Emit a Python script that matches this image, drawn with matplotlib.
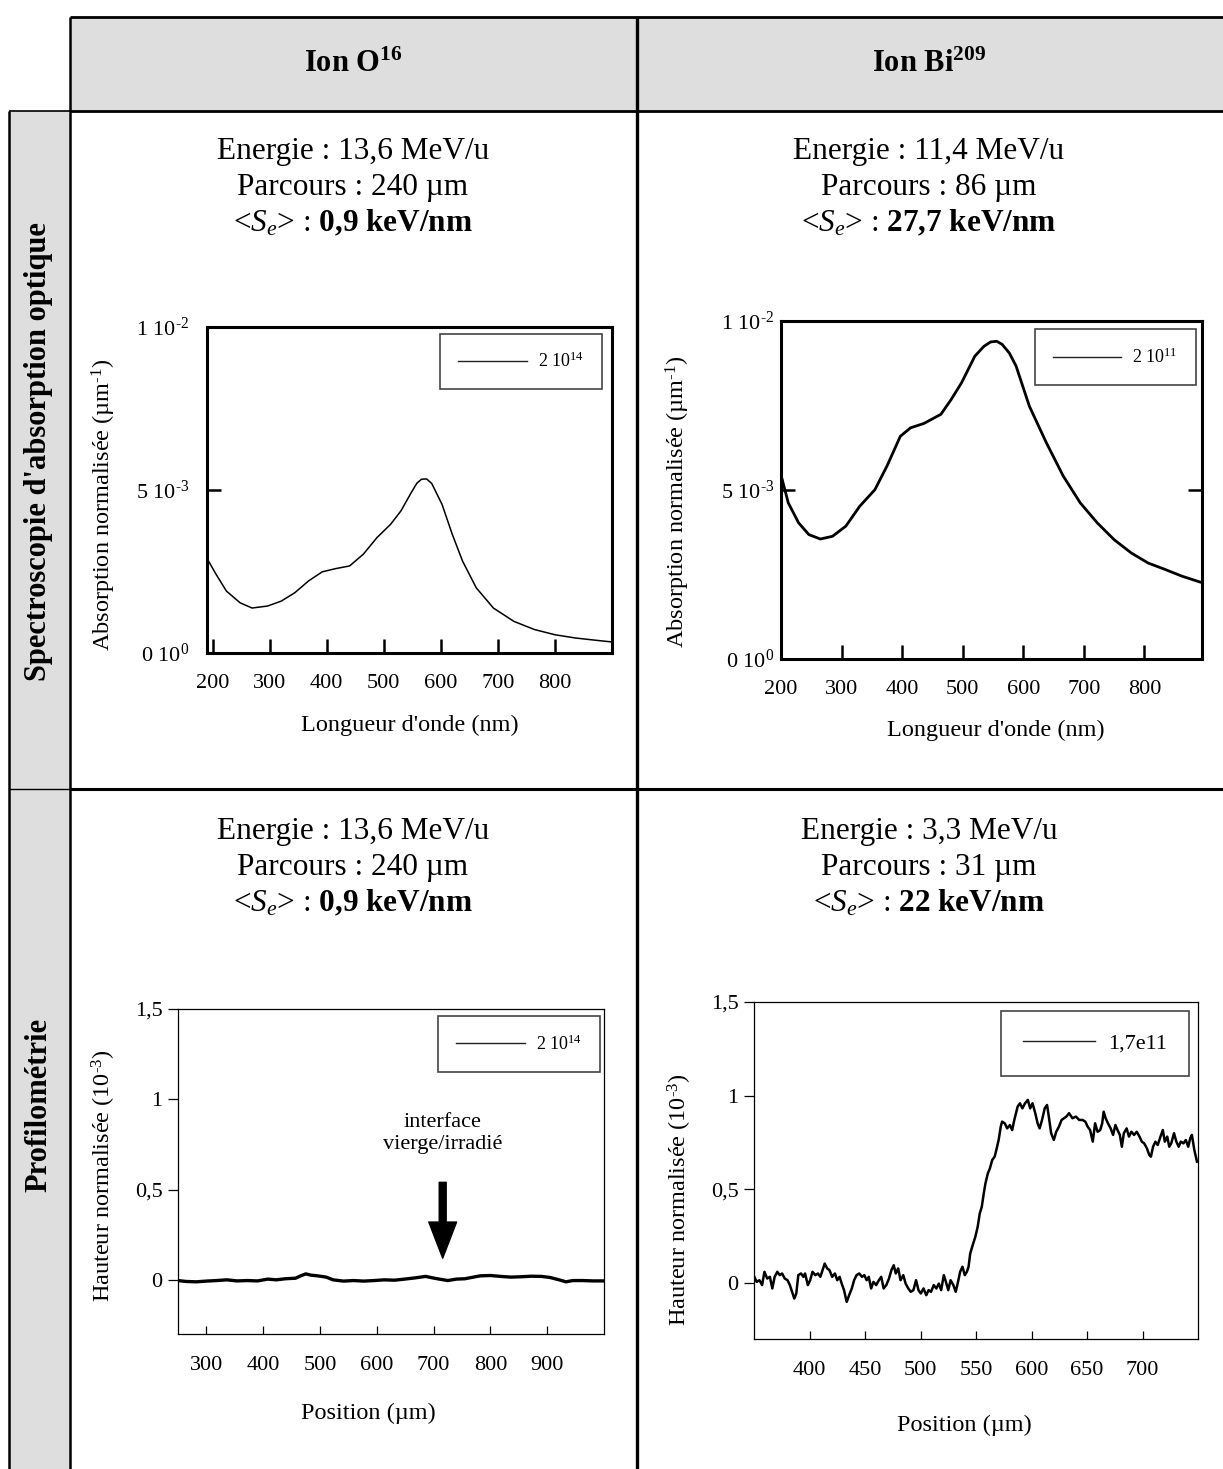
import matplotlib
matplotlib.use('Agg')
import matplotlib.pyplot as plt
from matplotlib.lines import Line2D
from matplotlib.patches import Rectangle

# ---- donnees ----
# spectre optique, ion O16 (2 10^14)
o_wavelength = [191, 206, 224, 248, 269, 296, 320, 344, 368, 392, 416, 440, 464, 488,
                512, 530, 548, 558, 566, 575, 584, 602, 620, 638, 662, 692, 728, 764, 800,
                836, 872, 899]
o_absorb = [0.00287, 0.00241, 0.00190, 0.00154, 0.00138, 0.00144, 0.00159, 0.00185, 0.00221,
            0.00249, 0.00259, 0.00267, 0.00303, 0.00354, 0.00395, 0.00436, 0.00492, 0.00521,
            0.00533, 0.00534, 0.00520, 0.00456, 0.00364, 0.00282, 0.00200, 0.00138, 0.00097,
            0.00072, 0.00056, 0.00046, 0.00039, 0.00034]

# spectre optique, ion Bi209 (2 10^11)
bi_wavelength = [202, 212, 229, 246, 265, 285, 307, 330, 355, 375, 397, 414, 436, 464, 481,
                 498, 520, 535, 546, 556, 565, 577, 588, 610, 638, 666, 694, 722, 750, 778,
                 806, 834, 862, 893]
bi_absorb = [0.00531, 0.00462, 0.00403, 0.00368, 0.00355, 0.00363, 0.00393, 0.00452, 0.00501,
             0.00571, 0.00659, 0.00684, 0.00697, 0.00724, 0.00768, 0.00817, 0.00896, 0.00925,
             0.00938, 0.00940, 0.00931, 0.00905, 0.00867, 0.00748, 0.00640, 0.00541, 0.00462,
             0.00403, 0.00353, 0.00314, 0.00284, 0.00265, 0.00245, 0.00227]

# profilometrie, ion O16
o_position = [250, 264, 282, 300, 318, 336, 354, 372, 390, 408, 423, 439, 457, 466, 475, 484,
              496, 511, 523, 541, 559, 577, 595, 613, 631, 649, 668, 686, 698, 710, 725, 740,
              755, 770, 782, 800, 818, 836, 854, 872, 890, 905, 921, 933, 945, 963, 981, 999]
o_height = [-0.004, -0.009, -0.011, -0.007, -0.004, 0.0, -0.006, -0.004, -0.006, 0.004, 0.0,
            0.006, 0.009, 0.022, 0.033, 0.026, 0.022, 0.015, 0.0, -0.007, -0.004, -0.007,
            -0.004, 0.0, -0.002, 0.004, 0.011, 0.019, 0.011, 0.004, -0.004, 0.004, 0.006,
            0.015, 0.022, 0.024, 0.019, 0.015, 0.017, 0.020, 0.019, 0.013, 0.0, -0.011,
            -0.004, -0.004, -0.006, -0.006]

# profilometrie, ion Bi209
bi_position = [350.3, 352.4, 354.9, 357.3, 359.4, 361.9, 364.3, 366.5, 368.6, 371.0, 373.2,
               375.3, 377.7, 380.2, 382.3, 383.8, 386.3, 388.1, 389.9, 392.4, 394.5, 396.0,
               398.5, 400.6, 402.7, 405.2, 407.6, 409.8, 411.3, 413.7, 415.9, 418.0, 420.4,
               422.9, 425.0, 427.1, 429.0, 431.1, 433.5, 435.7, 438.1, 440.2, 442.4, 444.8,
               447.3, 449.4, 451.5, 453.4, 455.5, 457.6, 460.1, 462.5, 464.6, 466.8, 469.2,
               471.6, 473.8, 475.9, 477.7, 479.9, 482.0, 484.5, 486.6, 489.0, 491.2, 493.6,
               496.0, 498.2, 500.3, 502.7, 505.2, 507.3, 509.5, 511.9, 514.3, 516.5, 518.6,
               521.0, 522.9, 525.0, 527.1, 529.6, 531.7, 533.8, 535.7, 537.8, 539.9, 541.8,
               543.3, 544.8, 547.0, 549.4, 551.5, 553.4, 555.2, 557.0, 558.5, 560.7, 562.5,
               564.6, 566.8, 568.3, 570.4, 572.3, 573.5, 575.9, 578.1, 580.5, 582.6, 584.5,
               586.0, 587.5, 589.6, 591.8, 594.2, 596.7, 598.8, 600.9, 603.4, 605.5, 607.3,
               609.5, 611.9, 614.0, 615.6, 617.7, 620.1, 622.3, 624.7, 627.1, 629.3, 631.4,
               633.8, 636.9, 640.0, 643.0, 646.0, 648.5, 650.6, 652.8, 655.2, 657.3, 659.5,
               661.9, 663.7, 665.0, 666.8, 668.9, 671.3, 673.5, 675.6, 677.5, 679.6, 681.4,
               683.2, 685.7, 687.8, 690.0, 692.4, 694.8, 697.3, 699.4, 701.5, 704.0, 706.1,
               707.6, 709.5, 711.6, 713.7, 716.2, 718.3, 720.1, 722.3, 724.1, 725.9, 728.4,
               730.5, 732.6, 734.5, 736.9, 739.0, 741.2, 743.0, 744.5, 746.7, 749.1]
bi_height = [0.032, 0.005, 0.014, -0.012, 0.059, 0.023, 0.032, -0.030, 0.032, 0.059, 0.041,
             0.050, 0.023, 0.014, -0.012, -0.039, -0.084, -0.057, 0.041, 0.050, 0.032, 0.050,
             -0.012, 0.014, 0.059, 0.041, 0.050, 0.032, 0.059, 0.103, 0.077, 0.068, 0.032,
             0.050, 0.014, 0.032, -0.004, -0.039, -0.102, -0.066, -0.030, 0.014, 0.041, 0.050,
             0.032, 0.041, 0.014, 0.032, -0.030, 0.005, -0.012, 0.014, 0.032, -0.030, -0.012,
             0.023, 0.068, 0.094, 0.050, 0.077, 0.014, 0.041, -0.004, -0.030, -0.048, -0.039,
             0.014, -0.039, -0.057, -0.030, -0.066, -0.039, -0.048, -0.012, -0.030, -0.004,
             -0.039, 0.041, 0.005, -0.039, 0.014, -0.012, -0.048, 0.005, 0.059, 0.086, 0.041,
             0.059, 0.086, 0.157, 0.201, 0.246, 0.299, 0.371, 0.406, 0.478, 0.531, 0.585,
             0.611, 0.656, 0.674, 0.709, 0.763, 0.834, 0.861, 0.852, 0.825, 0.843, 0.816,
             0.870, 0.906, 0.941, 0.959, 0.932, 0.959, 0.977, 0.932, 0.959, 0.906, 0.852,
             0.825, 0.870, 0.932, 0.950, 0.888, 0.799, 0.763, 0.807, 0.834, 0.870, 0.879,
             0.888, 0.906, 0.879, 0.888, 0.870, 0.870, 0.861, 0.834, 0.816, 0.754, 0.852,
             0.807, 0.816, 0.852, 0.914, 0.879, 0.852, 0.825, 0.790, 0.843, 0.816, 0.790,
             0.727, 0.799, 0.825, 0.781, 0.807, 0.790, 0.807, 0.781, 0.754, 0.745, 0.718,
             0.683, 0.674, 0.727, 0.754, 0.736, 0.781, 0.816, 0.754, 0.781, 0.727, 0.745,
             0.799, 0.754, 0.727, 0.754, 0.745, 0.763, 0.727, 0.772, 0.790, 0.709, 0.647]

# textes
col_titles = [r"Ion O$^{\mathbf{16}}$", r"Ion Bi$^{\mathbf{209}}$"]
row_titles = ["Spectroscopie d'absorption optique", "Profilométrie"]
cell_texts = {
    (0, 0): ["Energie : 13,6 MeV/u", "Parcours : 240 µm", r"<$S_e$> : $\mathbf{0{,}9\ keV/nm}$"],
    (0, 1): ["Energie : 11,4 MeV/u", "Parcours : 86 µm", r"<$S_e$> : $\mathbf{27{,}7\ keV/nm}$"],
    (1, 0): ["Energie : 13,6 MeV/u", "Parcours : 240 µm", r"<$S_e$> : $\mathbf{0{,}9\ keV/nm}$"],
    (1, 1): ["Energie : 3,3 MeV/u", "Parcours : 31 µm", r"<$S_e$> : $\mathbf{22\ keV/nm}$"],
}
abs_yticks = [0, 0.005, 0.01]
abs_ylabels = [r"0 10$^{0}$", r"5 10$^{\text{-}3}$", r"1 10$^{\text{-}2}$"]
abs_xticks = [200, 300, 400, 500, 600, 700, 800]
prof_yticks = [0, 0.5, 1, 1.5]
prof_ylabels = ["0", "0,5", "1", "1,5"]
o_prof_xticks = [300, 400, 500, 600, 700, 800, 900]
bi_prof_xticks = [400, 450, 500, 550, 600, 650, 700]

plt.rcParams['font.family'] = 'Liberation Serif'
plt.rcParams['mathtext.fontset'] = 'custom'
plt.rcParams['mathtext.rm'] = 'Liberation Serif'
plt.rcParams['mathtext.it'] = 'Liberation Serif:italic'
plt.rcParams['mathtext.bf'] = 'Liberation Serif:bold'

W, H = 1223, 1469
fig = plt.figure(figsize=(W / 100, H / 100), dpi=100)


def fx(x):
    return x / W


def fy(y):
    return 1 - y / H


def hline(x0, x1, y, lw):
    fig.add_artist(Line2D([fx(x0), fx(x1)], [fy(y), fy(y)], transform=fig.transFigure,
                          color='black', lw=lw, solid_capstyle='butt'))


def vline(x, y0, y1, lw):
    fig.add_artist(Line2D([fx(x), fx(x)], [fy(y0), fy(y1)], transform=fig.transFigure,
                          color='black', lw=lw, solid_capstyle='butt'))


def new_axes(l, t, r, b):
    return fig.add_axes([fx(l), fy(b), (r - l) / W, (b - t) / H])


# ---- tableau ----
grey = '#DEDEDE'
fig.add_artist(Rectangle((fx(70), fy(111)), (W - 70) / W, 94 / H, transform=fig.transFigure,
                         fc=grey, ec='none', zorder=0))
fig.add_artist(Rectangle((fx(9), fy(H)), 61 / W, (H - 111) / H, transform=fig.transFigure,
                         fc=grey, ec='none', zorder=0))
hline(70, W, 17, 2.0)
hline(70, W, 111, 2.0)
hline(9, 70, 111, 1.2)
hline(70, W, 789, 2.2)
hline(9, 70, 789, 1.0)
vline(70, 17, H, 1.8)
vline(637, 17, H, 2.4)
vline(9, 111, H, 1.8)

col_centers = [353, 929]
for cx, title in zip(col_centers, col_titles):
    fig.text(fx(cx), fy(64), title, ha='center', va='center', fontsize=22, fontweight='bold')

fig.text(fx(39), fy(452), row_titles[0], rotation=90, ha='center', va='center',
         fontsize=22, fontweight='bold')
fig.text(fx(39), fy(1105), row_titles[1], rotation=90, ha='center', va='center',
         fontsize=22, fontweight='bold')

row_lines_y = [[151, 187, 223], [832, 867, 903]]
for (r, c), lines in cell_texts.items():
    for y, txt in zip(row_lines_y[r], lines):
        fig.text(fx(col_centers[c]), fy(y), txt, ha='center', va='center', fontsize=22.5)


def legend_at(ax, label, x_right, y_top, fontsize, hlen):
    leg = ax.legend([Line2D([], [], color='#222222', lw=1.0)], [label],
                    loc='upper right', bbox_to_anchor=(x_right, y_top), borderaxespad=0,
                    fontsize=fontsize, handlelength=hlen, handletextpad=0.6, borderpad=1.0,
                    fancybox=False, edgecolor='#444444', framealpha=1)
    leg.get_frame().set_linewidth(1.2)


def spec_axes(ax, x, y, lw, xlim, right_tick, ypad):
    ax.plot(x, y, color='black', lw=lw)
    ax.set_xlim(*xlim)
    ax.set_ylim(0, 0.01)
    ax.set_xticks(abs_xticks)
    ax.set_yticks(abs_yticks, labels=abs_ylabels)
    for s in ax.spines.values():
        s.set_linewidth(2.2)
    ax.tick_params(axis='x', direction='in', length=10, width=1.8, labelsize=16, pad=15)
    ax.tick_params(axis='y', direction='in', length=10, width=1.8, labelsize=16, pad=ypad,
                   right=right_tick)


# ---- spectre O16 ----
ax1 = new_axes(207, 327, 612, 653)
spec_axes(ax1, o_wavelength, o_absorb, 1.1, (190, 900), False, 13)
legend_at(ax1, r"2 10$^{14}$", 0.975, 0.98, 13, 3.8)
fig.text(fx(410), fy(725), "Longueur d'onde (nm)", ha='center', va='center', fontsize=17.5)
fig.text(fx(104), fy(505), r"Absorption normalisée (µm$^{\text{-}1}$)", rotation=90,
         ha='center', va='center', fontsize=17.5)

# ---- spectre Bi209 ----
ax2 = new_axes(781, 321, 1202, 659)
spec_axes(ax2, bi_wavelength, bi_absorb, 2.0, (200, 895), True, 5)
legend_at(ax2, r"2 10$^{11}$", 0.985, 0.975, 13, 3.8)
fig.text(fx(996), fy(730), "Longueur d'onde (nm)", ha='center', va='center', fontsize=17.5)
fig.text(fx(678), fy(502), r"Absorption normalisée (µm$^{\text{-}1}$)", rotation=90,
         ha='center', va='center', fontsize=17.5)


def prof_axes(ax, x, y, lw, xlim, xticks):
    ax.plot(x, y, color='black', lw=lw)
    ax.set_xlim(*xlim)
    ax.set_ylim(-0.3, 1.5)
    ax.set_xticks(xticks)
    ax.set_yticks(prof_yticks, labels=prof_ylabels)
    for s in ax.spines.values():
        s.set_linewidth(0.9)
    ax.tick_params(axis='x', direction='in', length=6, width=0.9, labelsize=16, pad=16)
    ax.tick_params(axis='y', direction='out', length=7, width=0.9, labelsize=16, pad=4)


# ---- profil O16 ----
ax3 = new_axes(178, 1009, 604, 1334)
prof_axes(ax3, o_position, o_height, 2.4, (250, 1000), o_prof_xticks)
legend_at(ax3, r"2 10$^{14}$", 0.99, 0.978, 13, 3.8)
ax3.annotate('', xy=(716, 0.12), xytext=(716, 0.54),
             arrowprops=dict(facecolor='black', edgecolor='black', width=5,
                             headwidth=20, headlength=26))
ax3.text(716, 0.81, "interface\nvierge/irradié", ha='center', va='center', fontsize=16,
         linespacing=1.25)
fig.text(fx(368), fy(1413), "Position (µm)", ha='center', va='center', fontsize=17.5)
fig.text(fx(104), fy(1176), r"Hauteur normalisée (10$^{\text{-}3}$)", rotation=90,
         ha='center', va='center', fontsize=17.5)

# ---- profil Bi209 ----
ax4 = new_axes(754, 1002, 1198, 1339)
prof_axes(ax4, bi_position, bi_height, 1.8, (350, 750), bi_prof_xticks)
legend_at(ax4, "1,7e11", 0.98, 0.973, 16, 3.2)
fig.text(fx(964), fy(1425), "Position (µm)", ha='center', va='center', fontsize=17.5)
fig.text(fx(680), fy(1200), r"Hauteur normalisée (10$^{\text{-}3}$)", rotation=90,
         ha='center', va='center', fontsize=17.5)

fig.savefig('out.png', dpi=100)
